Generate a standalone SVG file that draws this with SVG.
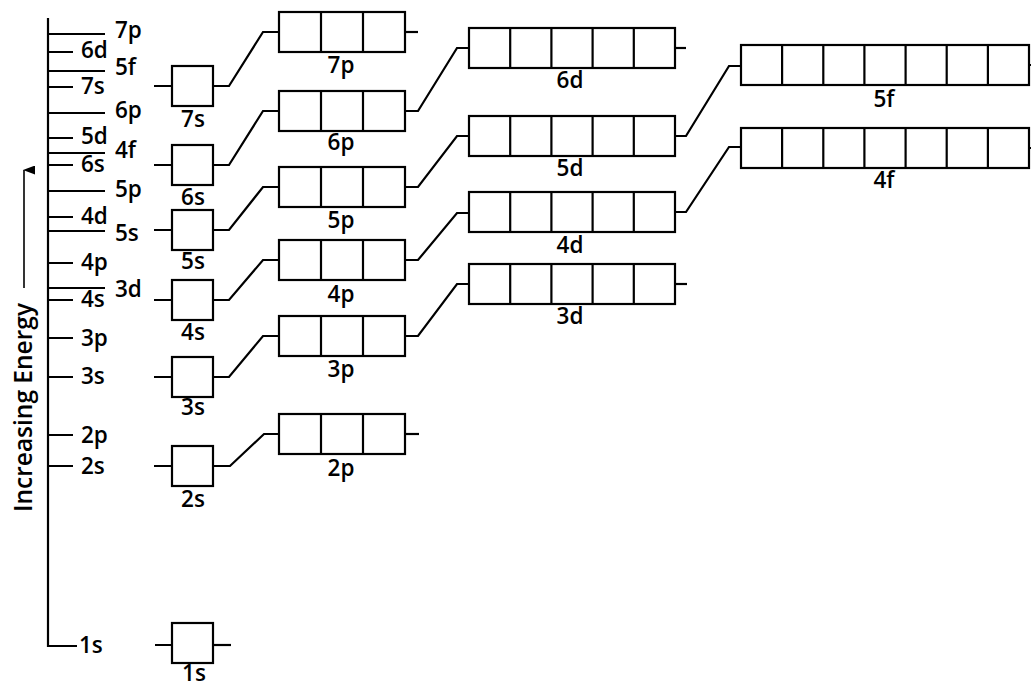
<svg xmlns="http://www.w3.org/2000/svg" width="1031" height="686" viewBox="0 0 1031 686">
<style>
.b{fill:#fff;stroke:#000;stroke-width:2.2}
.l{fill:none;stroke:#000;stroke-width:2.2}
text{font-family:"Open Sans","Noto Sans","Liberation Sans",sans-serif;font-size:22.5px;font-weight:600;fill:#000}
.c{text-anchor:middle}
</style>
<defs>
<marker id="ah" markerWidth="9" markerHeight="12" refX="4.5" refY="1" orient="auto-start-reverse" markerUnits="userSpaceOnUse" viewBox="0 0 9 12">
<path d="M0,12 L4.5,0 L9,12 Z" fill="#000"/>
</marker>
</defs>
<rect width="1031" height="686" fill="#fff"/>
<g id="axis">
<path class="l" d="M48,18 V646 H77"/>
<path class="l" d="M48,34H105M48,52H73M48,71H105M48,87H73M48,113H105M48,138H73M48,153H105M48,165H73M48,191H105M48,217H73M48,231H105M48,263H73M48,288H105M48,300H73M48,338H73M48,377H73M48,435H73M48,466H73"/>
<text x="115" y="38">7p</text>
<text x="81" y="58">6d</text>
<text x="115" y="75">5f</text>
<text x="81" y="94">7s</text>
<text x="115" y="118">6p</text>
<text x="81" y="144">5d</text>
<text x="115" y="158">4f</text>
<text x="81" y="172">6s</text>
<text x="115" y="197">5p</text>
<text x="81" y="224">4d</text>
<text x="115" y="241">5s</text>
<text x="81" y="270">4p</text>
<text x="115" y="297">3d</text>
<text x="81" y="307">4s</text>
<text x="81" y="346">3p</text>
<text x="81" y="384">3s</text>
<text x="81" y="443">2p</text>
<text x="81" y="474">2s</text>
<text x="79" y="653">1s</text>
</g>
<g id="energy-label">
<text transform="translate(32,512) rotate(-90)" style="font-size:24.5px">Increasing Energy</text>
<line class="l" x1="24" y1="288" x2="24" y2="170" marker-end="url(#ah)" style="stroke-width:1.6"/>
</g>
<g id="connectors">
<path class="l" d="M154,86H172M154,165H172M154,230H172M154,300H172M154,377H172M154,466H172M155,645H172"/>
<polyline class="l" points="213,86 229,86 263,32 279,32"/>
<polyline class="l" points="213,165 229,165 263,111 279,111"/>
<polyline class="l" points="213,230 229,230 263,187 279,187"/>
<polyline class="l" points="213,300 229,300 263,260 279,260"/>
<polyline class="l" points="213,377 229,377 263,336 279,336"/>
<polyline class="l" points="213,466 230,466 264,434 279,434"/>
<line class="l" x1="213" y1="645" x2="231" y2="645"/>
<line class="l" x1="405" y1="32" x2="418" y2="32"/>
<polyline class="l" points="405,111 418,111 457,48 469,48"/>
<polyline class="l" points="405,187 418,187 457,136 469,136"/>
<polyline class="l" points="405,260 418,260 457,213 469,213"/>
<polyline class="l" points="405,336 418,336 457,284 469,284"/>
<line class="l" x1="405" y1="434" x2="419" y2="434"/>
<line class="l" x1="675" y1="48" x2="686" y2="48"/>
<polyline class="l" points="675,136 686,136 729,66 741,66"/>
<polyline class="l" points="675,212 686,212 729,147 741,147"/>
<line class="l" x1="675" y1="284" x2="687" y2="284"/>
<line class="l" x1="1029" y1="65" x2="1031" y2="65"/>
<line class="l" x1="1029" y1="148" x2="1031" y2="148"/>
</g>
<g id="s7"><rect class="b" x="172" y="66" width="41" height="40"/><text class="c" x="193" y="127">7s</text></g>
<g id="s6"><rect class="b" x="172" y="145" width="41" height="40"/><text class="c" x="193" y="205">6s</text></g>
<g id="s5"><rect class="b" x="172" y="210" width="41" height="40"/><text class="c" x="193" y="269">5s</text></g>
<g id="s4"><rect class="b" x="172" y="280" width="41" height="40"/><text class="c" x="193" y="340">4s</text></g>
<g id="s3"><rect class="b" x="172" y="357" width="41" height="40"/><text class="c" x="193" y="415">3s</text></g>
<g id="s2"><rect class="b" x="172" y="446" width="41" height="40"/><text class="c" x="193" y="507">2s</text></g>
<g id="s1"><rect class="b" x="172" y="623" width="41" height="40"/><text class="c" x="194" y="681">1s</text></g>
<g id="p7"><rect class="b" x="279" y="12" width="126" height="40"/><path class="l" d="M321,12V52M363,12V52"/><text class="c" x="341" y="73">7p</text></g>
<g id="p6"><rect class="b" x="279" y="91" width="126" height="40"/><path class="l" d="M321,91V131M363,91V131"/><text class="c" x="341" y="150">6p</text></g>
<g id="p5"><rect class="b" x="279" y="167" width="126" height="40"/><path class="l" d="M321,167V207M363,167V207"/><text class="c" x="341" y="228">5p</text></g>
<g id="p4"><rect class="b" x="279" y="240" width="126" height="40"/><path class="l" d="M321,240V280M363,240V280"/><text class="c" x="341" y="302">4p</text></g>
<g id="p3"><rect class="b" x="279" y="316" width="126" height="40"/><path class="l" d="M321,316V356M363,316V356"/><text class="c" x="341" y="377">3p</text></g>
<g id="p2"><rect class="b" x="279" y="414" width="126" height="40"/><path class="l" d="M321,414V454M363,414V454"/><text class="c" x="341" y="476">2p</text></g>
<g id="d6"><rect class="b" x="469" y="28" width="206" height="40"/><path class="l" d="M510.2,28V68M551.4,28V68M592.6,28V68M633.8,28V68"/><text class="c" x="570" y="88">6d</text></g>
<g id="d5"><rect class="b" x="469" y="116" width="206" height="40"/><path class="l" d="M510.2,116V156M551.4,116V156M592.6,116V156M633.8,116V156"/><text class="c" x="570" y="176">5d</text></g>
<g id="d4"><rect class="b" x="469" y="192" width="206" height="40"/><path class="l" d="M510.2,192V232M551.4,192V232M592.6,192V232M633.8,192V232"/><text class="c" x="570" y="253">4d</text></g>
<g id="d3"><rect class="b" x="469" y="264" width="206" height="40"/><path class="l" d="M510.2,264V304M551.4,264V304M592.6,264V304M633.8,264V304"/><text class="c" x="570" y="324">3d</text></g>
<g id="f5"><rect class="b" x="741" y="45" width="288" height="40"/><path class="l" d="M782.1,45V85M823.3,45V85M864.4,45V85M905.6,45V85M946.7,45V85M987.9,45V85"/><text class="c" x="884" y="107">5f</text></g>
<g id="f4"><rect class="b" x="741" y="128" width="288" height="40"/><path class="l" d="M782.1,128V168M823.3,128V168M864.4,128V168M905.6,128V168M946.7,128V168M987.9,128V168"/><text class="c" x="884" y="188">4f</text></g>
</svg>
